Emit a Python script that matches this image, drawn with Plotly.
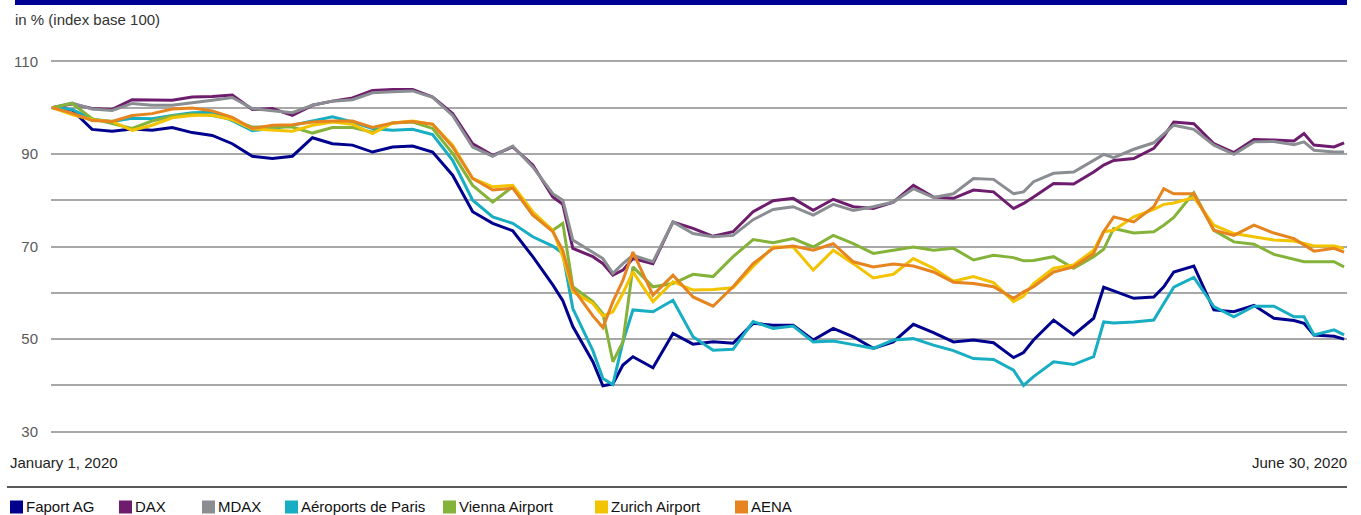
import plotly.graph_objects as go

# ---------------- data ----------------
series_names = ["Faport AG", "DAX", "MDAX", "Aéroports de Paris", "Vienna Airport", "Zurich Airport", "AENA"]
series_colors = ["#00008F", "#6E1D6E", "#8A8D91", "#17ADC2", "#85B33A", "#F3C300", "#E6841F"]

x_labels = ["January 1, 2020", "June 30, 2020"]
y_title = "in % (index base 100)"
y_tickvals = [30, 40, 50, 60, 70, 80, 90, 100, 110]
y_ticktext = ["30", "", "50", "", "70", "", "90", "", "110"]

# trading-day index (0 = Jan 1, 129 = Jun 30)
day_index = [0, 2, 4, 6, 8, 10, 12, 14, 16, 18, 20, 22, 24, 26, 28, 30, 32, 34, 36, 38, 40, 42, 44, 46, 48, 50,
             51, 52, 54, 55, 56, 57, 58,
             60, 62, 64, 66, 68, 70, 72, 74, 76, 78, 80, 82, 84, 86, 88, 90, 92, 94, 96,
             97, 98, 100, 102, 104, 105, 106, 108, 110, 111, 112,
             114, 116, 118, 120, 122, 124, 125, 126, 128, 129]

faport = [100, 99.5, 95.3, 94.9, 95.4, 95.1, 95.7, 94.6, 94.0, 92.2, 89.5, 89.0, 89.5, 93.5, 92.2, 91.9, 90.4, 91.5, 91.7, 90.4, 85.4, 77.5, 75.0, 73.4, 67.8, 61.7,
          58.3, 52.7, 45.1, 39.9, 40.3, 44.4, 46.2,
          43.8, 51.2, 48.9, 49.4, 49.1, 53.4, 53.0, 53.0, 49.8, 52.3, 50.5, 48.0, 49.4, 53.2, 51.4, 49.4, 49.8, 49.2, 46.0,
          47.1, 49.8, 54.1, 50.9, 54.5, 61.2, 60.4, 58.8, 59.1, 61.3, 64.5,
          65.8, 56.3, 55.9, 57.3, 54.5, 54.0, 53.4, 50.9, 50.6, 50.0]

dax = [100, 100.8, 99.8, 99.6, 101.7, 101.7, 101.6, 102.3, 102.4, 102.7, 99.6, 99.8, 98.3, 100.5, 101.4, 102.1, 103.7, 103.9, 103.9, 102.3, 98.7, 92.2, 89.7, 91.5, 87.6, 80.7,
       79.1, 69.6, 67.8, 66.3, 63.8, 64.9, 67.4,
       66.3, 75.3, 73.9, 72.2, 73.2, 77.5, 79.9, 80.4, 77.8, 80.2, 78.6, 78.2, 79.6, 83.2, 80.7, 80.4, 82.2, 81.8, 78.2,
       79.3, 80.7, 83.6, 83.5, 86.1, 87.6, 88.6, 89.0, 91.2, 93.8, 96.9,
       96.5, 92.2, 90.3, 93.1, 93.0, 92.8, 94.4, 91.9, 91.5, 92.4]

mdax = [100, 101.0, 99.7, 99.4, 100.9, 100.5, 100.5, 101.0, 101.6, 102.2, 99.8, 99.3, 98.9, 100.5, 101.4, 101.7, 103.2, 103.4, 103.6, 102.2, 98.3, 91.5, 89.5, 91.7, 87.2, 81.4,
        80.0, 71.4, 68.8, 67.4, 64.2, 66.3, 68.1,
        66.7, 75.3, 72.8, 72.1, 72.4, 75.8, 78.0, 78.6, 76.8, 79.1, 77.8, 78.6, 79.6, 82.5, 80.6, 81.4, 84.7, 84.5, 81.4,
        81.8, 84.0, 85.8, 86.1, 88.6, 89.9, 89.2, 91.0, 92.4, 94.4, 96.2,
        95.3, 91.9, 89.9, 92.6, 92.7, 92.0, 92.6, 90.8, 90.4, 90.4]

adp = [100, 99.6, 97.5, 97.0, 97.7, 97.6, 98.3, 98.9, 99.0, 97.2, 95.0, 95.5, 96.2, 97.1, 98.0, 96.9, 95.5, 95.1, 95.3, 94.2, 88.6, 80.0, 76.4, 75.0, 72.1, 70.1,
       68.5, 56.6, 47.5, 41.5, 40.2, 49.4, 56.3,
       55.9, 58.4, 50.5, 47.6, 47.8, 53.8, 52.3, 52.8, 49.4, 49.6, 48.8, 48.0, 49.8, 50.1, 48.7, 47.5, 45.8, 45.6, 43.3,
       40.0, 41.9, 45.1, 44.5, 46.2, 53.7, 53.5, 53.7, 54.1, 57.7, 61.2,
       63.3, 57.0, 54.8, 57.1, 57.1, 54.8, 54.8, 50.9, 52.0, 50.9]

vienna = [100, 100.9, 97.6, 96.6, 95.5, 97.1, 98.2, 98.6, 98.3, 97.4, 95.8, 95.8, 95.8, 94.5, 95.7, 95.7, 94.7, 96.7, 96.9, 95.5, 90.1, 83.2, 79.6, 82.9, 76.8, 73.5,
          75.0, 61.3, 58.1, 55.5, 45.1, 49.4, 65.6,
          61.3, 62.0, 64.0, 63.5, 67.8, 71.5, 70.8, 71.7, 69.9, 72.4, 70.6, 68.5, 69.2, 69.9, 69.2, 69.6, 67.1, 68.1, 67.6,
          66.9, 67.0, 67.8, 65.3, 67.8, 69.4, 73.9, 72.9, 73.2, 74.6, 76.3,
          81.6, 73.5, 71.0, 70.5, 68.3, 67.2, 66.7, 66.7, 66.7, 65.6]

zurich = [100, 98.5, 97.4, 97.0, 95.1, 96.2, 97.8, 98.3, 98.4, 97.4, 95.4, 95.1, 94.9, 96.2, 96.9, 96.4, 94.4, 96.7, 97.1, 96.4, 91.9, 84.7, 82.9, 83.2, 77.5, 73.5,
          67.8, 60.2, 57.7, 55.0, 55.9, 59.9, 64.5,
          58.1, 62.4, 60.6, 60.7, 61.1, 65.7, 69.9, 69.9, 64.9, 69.2, 66.3, 63.2, 64.0, 67.4, 65.3, 62.5, 63.5, 62.2, 58.1,
          59.3, 62.0, 65.3, 66.0, 69.2, 73.2, 73.5, 76.4, 78.0, 79.1, 79.4,
          80.6, 74.6, 72.8, 72.1, 71.4, 71.2, 70.6, 70.1, 70.1, 69.6]

aena = [100, 98.8, 97.2, 97.0, 98.3, 98.7, 99.7, 99.9, 99.3, 97.9, 95.5, 96.2, 96.3, 96.9, 97.1, 97.1, 95.7, 96.7, 97.0, 96.4, 91.5, 84.7, 82.2, 82.6, 76.8, 73.2,
        69.2, 61.0, 55.0, 52.5, 58.1, 62.7, 68.8,
        59.5, 63.8, 59.1, 57.1, 61.3, 66.3, 69.6, 70.1, 69.2, 70.6, 66.7, 65.6, 66.2, 65.8, 64.5, 62.3, 62.0, 61.3, 58.8,
        60.2, 61.3, 64.5, 65.6, 68.5, 73.2, 76.4, 75.3, 78.6, 82.5, 81.4,
        81.4, 73.5, 72.4, 74.6, 72.9, 71.7, 70.3, 69.0, 69.6, 68.8]

series_values = [faport, dax, mdax, adp, vienna, zurich, aena]

# ---------------- layout geometry ----------------
W, H = 1361, 515
ML, MR, MT, MB = 51, 14, 59, 81
PW = W - ML - MR
PH = H - MT - MB


def px_x(px):
    return (px - ML) / PW


def px_y(py):
    return (H - MB - py) / PH


FONT = "Liberation Sans, Arial, sans-serif"
TXT = 15

fig = go.Figure()
for name, color, vals in zip(series_names, series_colors, series_values):
    fig.add_trace(go.Scatter(x=day_index, y=vals, name=name, mode="lines",
                             line=dict(color=color, width=3),
                             showlegend=False, hoverinfo="x+y+name"))

shapes = []
annotations = []

# top blue bar
shapes.append(dict(type="rect", xref="paper", yref="paper",
                   x0=px_x(15), x1=px_x(1347), y0=px_y(5), y1=px_y(0),
                   fillcolor="#000094", line=dict(width=0), layer="above"))

# unit label
annotations.append(dict(text=y_title, xref="paper", yref="paper", x=px_x(13), y=px_y(20),
                        xanchor="left", yanchor="middle", showarrow=False,
                        font=dict(family=FONT, size=TXT, color="#333333")))

# x-axis end labels
annotations.append(dict(text=x_labels[0], xref="paper", yref="paper", x=px_x(8), y=px_y(463),
                        xanchor="left", yanchor="middle", showarrow=False,
                        font=dict(family=FONT, size=TXT, color="#222222")))
annotations.append(dict(text=x_labels[1], xref="paper", yref="paper", x=px_x(1349), y=px_y(463),
                        xanchor="right", yanchor="middle", showarrow=False,
                        font=dict(family=FONT, size=TXT, color="#222222")))

# separator line above legend
shapes.append(dict(type="line", xref="paper", yref="paper",
                   x0=px_x(7), x1=px_x(1347), y0=px_y(487), y1=px_y(487),
                   line=dict(color="#222222", width=1.5)))

# manual legend
legend_x = [10, 119, 202, 285, 443, 595, 735]
for lx, name, color in zip(legend_x, series_names, series_colors):
    shapes.append(dict(type="rect", xref="paper", yref="paper",
                       x0=px_x(lx), x1=px_x(lx + 13), y0=px_y(513.5), y1=px_y(500.5),
                       fillcolor=color, line=dict(width=0)))
    annotations.append(dict(text=name, xref="paper", yref="paper", x=px_x(lx + 15), y=px_y(506),
                            xanchor="left", yanchor="middle", showarrow=False, borderpad=0,
                            font=dict(family=FONT, size=TXT, color="#111111")))

fig.update_layout(
    width=W, height=H,
    margin=dict(l=ML, r=MR, t=MT, b=MB, pad=0),
    paper_bgcolor="white", plot_bgcolor="white",
    font=dict(family=FONT),
    xaxis=dict(range=[-0.1, -0.1 + PW / 10.016], showgrid=False, zeroline=False,
               showline=False, showticklabels=False, ticks=""),
    yaxis=dict(range=[29.5, 110.5], tickvals=y_tickvals, ticktext=y_ticktext,
               showgrid=True, gridcolor="#A8A8A8", gridwidth=1.6,
               zeroline=False, showline=False, ticks="",
               ticklabelstandoff=12,
               tickfont=dict(family=FONT, size=15, color="#5A5A5A")),
    shapes=shapes,
    annotations=annotations,
    showlegend=False,
)

fig.write_html("out.html",
               config={"displayModeBar": False},
               post_script="document.body.style.margin='0';document.body.style.overflow='hidden';")
